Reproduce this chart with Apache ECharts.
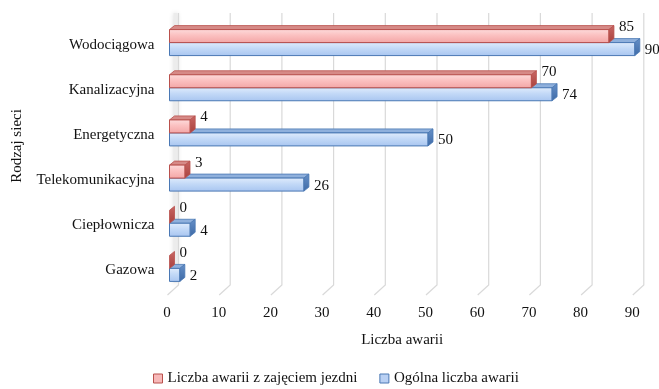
<!DOCTYPE html>
<html>
<head>
<meta charset="utf-8">
<script src="https://cdn.jsdelivr.net/npm/echarts@6/dist/echarts.min.js"></script>
<style>
  html, body { margin: 0; padding: 0; background: #ffffff; }
  #chart { width: 659px; height: 389px; }
</style>
</head>
<body>
<div id="chart"></div>
<script>
// Network types, bottom to top as they sit on the category axis
const categories = ['Gazowa', 'Ciepłownicza', 'Telekomunikacyjna', 'Energetyczna', 'Kanalizacyjna', 'Wodociągowa'];
// Failures that required closing the roadway
const roadwayFailures = [0, 0, 3, 4, 70, 85];
// All failures
const totalFailures = [2, 4, 26, 50, 74, 90];
// Value axis ticks
const xTicks = [0, 10, 20, 30, 40, 50, 60, 70, 80, 90];
const seriesNames = ['Liczba awarii z zajęciem jezdni', 'Ogólna liczba awarii'];
const xAxisName = 'Liczba awarii';
const yAxisName = 'Rodzaj sieci';

const FONT = '"Liberation Serif", "Times New Roman", serif';
const TEXT_COLOR = '#111111';

// pseudo-3D geometry
const DX = 5, DY = 4;          // bar depth
const BAR_H = 13;              // front face height
const FLOOR_DX = 11, FLOOR_DY = 10;

const palettes = {
  red: {
    edge: '#b9504c',
    top: '#d68a87',
    side: new echarts.graphic.LinearGradient(0, 0, 0, 1, [
      { offset: 0, color: '#c96663' }, { offset: 1, color: '#a8413e' }
    ]),
    front: new echarts.graphic.LinearGradient(0, 0, 0, 1, [
      { offset: 0, color: '#fddcdc' }, { offset: 0.45, color: '#fbc0c0' }, { offset: 1, color: '#f3a5a5' }
    ]),
    legendFill: '#f7b9b9'
  },
  blue: {
    edge: '#4a78b4',
    top: '#8fb0dc',
    side: new echarts.graphic.LinearGradient(0, 0, 0, 1, [
      { offset: 0, color: '#6690c8' }, { offset: 1, color: '#3e6aa6' }
    ]),
    front: new echarts.graphic.LinearGradient(0, 0, 0, 1, [
      { offset: 0, color: '#e0ecfc' }, { offset: 0.45, color: '#c3d9f7' }, { offset: 1, color: '#a8c5f0' }
    ]),
    legendFill: '#b9d0f3'
  }
};

function barRenderer(pal, upper, labelDy) {
  return function (params, api) {
    const v = api.value(0);
    const c = api.value(1);
    const base = api.coord([0, c]);
    const end = api.coord([v, c]);
    const mid = base[1] - 2;
    const y0 = upper ? mid - BAR_H : mid;
    const y1 = upper ? mid : mid + BAR_H;
    const x0 = base[0], x1 = end[0];
    const children = [];
    if (x1 - x0 > 0.5) {
      children.push({
        type: 'polygon',
        shape: { points: [[x0, y0], [x1, y0], [x1 + DX, y0 - DY], [x0 + DX, y0 - DY]] },
        style: { fill: pal.top, stroke: pal.edge, lineWidth: 0.8 }
      });
      children.push({
        type: 'rect',
        shape: { x: x0, y: y0, width: x1 - x0, height: y1 - y0 },
        style: { fill: pal.front, stroke: pal.edge, lineWidth: 1 }
      });
    }
    children.push({
      type: 'polygon',
      shape: { points: [[x1, y0], [x1 + DX, y0 - DY], [x1 + DX, y1 - DY], [x1, y1]] },
      style: { fill: pal.side, stroke: pal.edge, lineWidth: 0.8 }
    });
    children.push({
      type: 'text',
      style: {
        text: String(v),
        x: x1 + DX + 5,
        y: (y0 + y1) / 2 + labelDy,
        align: 'left',
        verticalAlign: 'middle',
        fontSize: 15,
        fontFamily: FONT,
        fill: TEXT_COLOR
      }
    });
    return { type: 'group', children: children };
  };
}

// back-wall and floor gridlines
function gridRenderer(params, api) {
  const v = api.value(0);
  const cs = params.coordSys;
  const xf = api.coord([v, 0])[0] - 2;
  const floorFront = cs.y + cs.height + 2;
  const floorBack = floorFront - FLOOR_DY;
  const top = 13;
  const pts = [[xf + FLOOR_DX, top], [xf + FLOOR_DX, floorBack], [xf, floorFront]];
  const children = [];
  if (v === 0) {
    // soft shading of the left wall edge
    children.push({
      type: 'polyline',
      shape: { points: [[xf + FLOOR_DX - 3, top], [xf + FLOOR_DX - 3, floorBack - 2]] },
      style: { stroke: '#ececec', lineWidth: 4, shadowBlur: 5, shadowColor: 'rgba(0,0,0,0.14)' }
    });
  }
  children.push({
    type: 'polyline',
    shape: { points: pts },
    style: { stroke: '#d9d9d9', lineWidth: 1.2, fill: null }
  });
  return { type: 'group', children: children };
}

const chart = echarts.init(document.getElementById('chart'), null, { renderer: 'canvas' });

chart.setOption({
  animation: false,
  backgroundColor: '#ffffff',
  grid: { left: 169.5, right: 24.2, top: 22, bottom: 96, containLabel: false },
  xAxis: {
    type: 'value',
    min: 0,
    max: 90,
    interval: 10,
    axisLine: { show: false },
    axisTick: { show: false },
    splitLine: { show: false },
    axisLabel: {
      margin: 13,
      fontSize: 15,
      fontFamily: FONT,
      color: TEXT_COLOR,
      padding: [0, 5, 0, 0]
    },
    name: xAxisName,
    nameLocation: 'middle',
    nameGap: 40,
    nameTextStyle: { fontSize: 15, fontFamily: FONT, color: TEXT_COLOR }
  },
  yAxis: {
    type: 'category',
    data: categories,
    axisLine: { show: false },
    axisTick: { show: false },
    splitLine: { show: false },
    axisLabel: {
      margin: 15,
      fontSize: 15,
      fontFamily: FONT,
      color: TEXT_COLOR
    }
  },
  legend: {
    left: 148,
    top: 366,
    itemWidth: 9,
    itemHeight: 9,
    itemGap: 22,
    icon: 'rect',
    textStyle: { fontSize: 15, fontFamily: FONT, color: TEXT_COLOR },
    data: [
      { name: seriesNames[0], itemStyle: { color: palettes.red.legendFill, borderColor: palettes.red.edge, borderWidth: 1 } },
      { name: seriesNames[1], itemStyle: { color: palettes.blue.legendFill, borderColor: palettes.blue.edge, borderWidth: 1 } }
    ]
  },
  graphic: [{
    type: 'text',
    x: 17,
    y: 146,
    rotation: Math.PI / 2,
    style: {
      text: yAxisName,
      align: 'center',
      verticalAlign: 'middle',
      fontSize: 15,
      fontFamily: FONT,
      fill: TEXT_COLOR
    }
  }],
  series: [
    {
      name: 'grid',
      type: 'custom',
      z: 1,
      silent: true,
      renderItem: gridRenderer,
      encode: { x: 0 },
      data: xTicks.map(function (t) { return [t, 0]; })
    },
    {
      name: seriesNames[1],
      type: 'custom',
      z: 2,
      itemStyle: { color: palettes.blue.legendFill },
      renderItem: barRenderer(palettes.blue, false, 1),
      encode: { x: 0, y: 1 },
      data: totalFailures.map(function (v, i) { return [v, i]; })
    },
    {
      name: seriesNames[0],
      type: 'custom',
      z: 3,
      itemStyle: { color: palettes.red.legendFill },
      renderItem: barRenderer(palettes.red, true, -9),
      encode: { x: 0, y: 1 },
      data: roadwayFailures.map(function (v, i) { return [v, i]; })
    }
  ]
});
</script>
</body>
</html>
